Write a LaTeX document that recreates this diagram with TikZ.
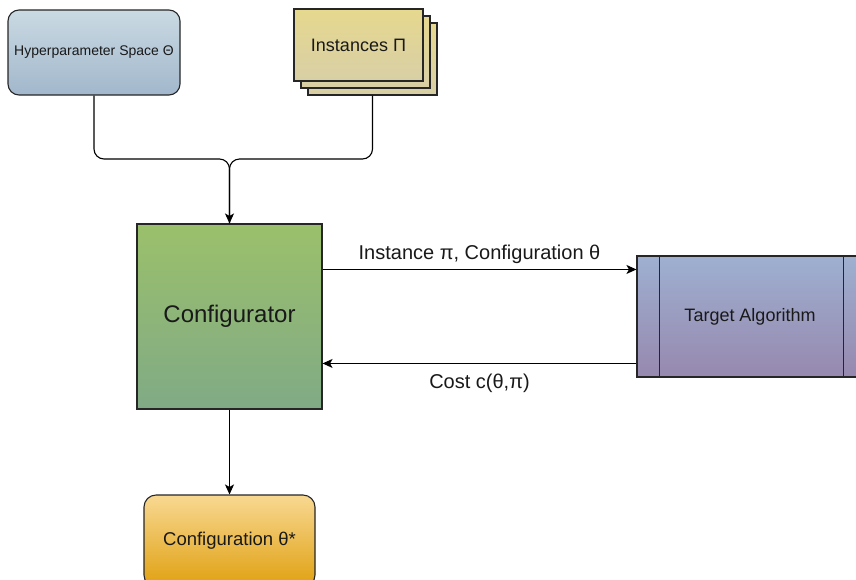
\documentclass[tikz,border=0pt]{standalone}
\usepackage{fontspec}
\setmainfont{Liberation Sans}
\usetikzlibrary{arrows.meta,calc}
\begin{document}
\begin{tikzpicture}[x=1pt,y=-1pt,
  box/.style={draw=black!85,line width=1.1pt,inner sep=2pt,align=center,text=black!90},
  arr/.style={-{Stealth[length=10pt,width=9pt,inset=2.5pt]},line width=1.1pt},
  link/.style={line width=1.1pt},
  lbl/.style={font=\fontsize{20}{24}\selectfont,text=black!90}
]
\useasboundingbox (0,0) rectangle (856,579);
\clip (0,0) rectangle (856,579);

% hyperparameter space
\node[box,rounded corners=11pt,minimum width=172pt,minimum height=85pt,
  top color={rgb,255:red,202;green,218;blue,227},bottom color={rgb,255:red,162;green,183;blue,204},
  font=\fontsize{14}{17}\selectfont] (hyper) at (94,52.5) {Hyperparameter Space Θ};

% stacked instances
\foreach \k/\n in {14/inst3,7/inst2,0/inst1}{
  \node[box,minimum width=129pt,minimum height=72pt,
    top color={rgb,255:red,230;green,216;blue,142},bottom color={rgb,255:red,216;green,207;blue,166}]
    (\n) at (358.5+\k,45+\k) {};
}
\node[font=\fontsize{18}{21}\selectfont,text=black!90] at (inst1) {Instances Π};

% configurator
\node[box,minimum width=185pt,minimum height=185pt,
  top color={rgb,255:red,155;green,192;blue,107},bottom color={rgb,255:red,128;green,170;blue,134},
  font=\fontsize{24}{28}\selectfont] (conf) at (229.5,316.5) {Configurator};

% target algorithm (process shape)
\node[box,minimum width=229pt,minimum height=121pt,
  top color={rgb,255:red,158;green,176;blue,208},bottom color={rgb,255:red,151;green,136;blue,175}]
  (target) at (751.5,316.5) {};
\draw[line width=1.1pt,black!85] ($(target.north west)+(23,0)$) -- ($(target.south west)+(23,0)$);
\draw[line width=1.1pt,black!85] ($(target.north east)+(-23,0)$) -- ($(target.south east)+(-23,0)$);
\node[font=\fontsize{18}{21}\selectfont,text=black!90] at (750,316.5) {Target Algorithm};

% result
\node[box,rounded corners=12pt,minimum width=171pt,minimum height=92pt,
  top color={rgb,255:red,248;green,216;blue,146},bottom color={rgb,255:red,224;green,160;blue,16},
  font=\fontsize{18.5}{22}\selectfont] (out) at (229.5,541) {Configuration θ*};

% inputs merging into the configurator
\coordinate (m) at (229.5,159);
\draw[link,rounded corners=10pt] (hyper.south) |- (m) -- (conf.north);
\draw[arr,rounded corners=10pt] (inst3.south) |- (m) -- (conf.north);

% exchange with the target algorithm
\draw[arr] ($(conf.north east)+(0,46)$) -- ($(target.north west)+(0,14)$)
  node[midway,above=2pt,lbl] {Instance π, Configuration θ};
\draw[arr] ($(target.north west)+(0,108)$) -- ($(conf.north east)+(0,140)$)
  node[midway,below=7pt,lbl] {Cost c(θ,π)};

% final output
\draw[arr] (conf.south) -- (out.north);
\end{tikzpicture}
\end{document}
